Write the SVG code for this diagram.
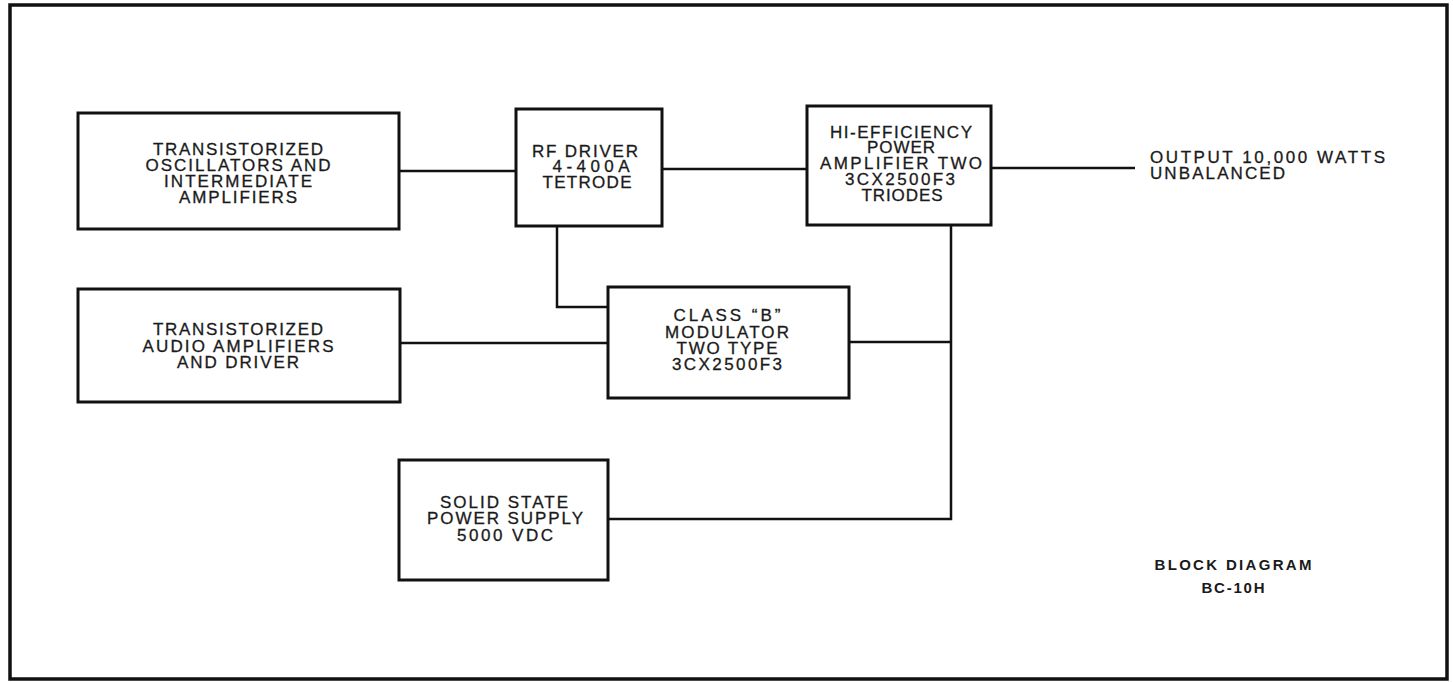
<svg xmlns="http://www.w3.org/2000/svg" width="1453" height="682" viewBox="0 0 1453 682">
<style>
.frame{fill:none;stroke:#111;stroke-width:3.5}
.box{fill:#fff;stroke:#111;stroke-width:3}
.wire{fill:none;stroke:#111;stroke-width:2.5}
.t{font-family:"Liberation Sans",Arial,sans-serif;font-size:17px;fill:#1a1a1a;stroke:#1a1a1a;stroke-width:0.3;text-anchor:middle}
.tl{font-family:"Liberation Sans",Arial,sans-serif;font-size:17px;fill:#1a1a1a;stroke:#1a1a1a;stroke-width:0.3;text-anchor:start}
.b{font-family:"Liberation Sans",Arial,sans-serif;font-size:15px;font-weight:bold;fill:#1a1a1a;text-anchor:middle}
</style>
<rect x="0" y="0" width="1453" height="682" fill="#fff"/>
<rect class="frame" x="10" y="5" width="1437" height="674"/>
<g id="connectors">
<line class="wire" x1="399" y1="171" x2="516" y2="171"/>
<line class="wire" x1="662" y1="169" x2="807" y2="169"/>
<line class="wire" x1="991" y1="168" x2="1135" y2="168"/>
<polyline class="wire" points="557,226 557,307 608,307"/>
<line class="wire" x1="400" y1="343" x2="608" y2="343"/>
<line class="wire" x1="849" y1="342" x2="951" y2="342"/>
<polyline class="wire" points="951,225 951,519 609,519"/>
</g>
<g id="osc">
<rect class="box" x="78" y="113" width="321" height="116"/>
<text class="t" x="238" y="155" textLength="170" lengthAdjust="spacing">TRANSISTORIZED</text>
<text class="t" x="238" y="171" textLength="185" lengthAdjust="spacing">OSCILLATORS AND</text>
<text class="t" x="238" y="187" textLength="148" lengthAdjust="spacing">INTERMEDIATE</text>
<text class="t" x="238" y="203" textLength="118" lengthAdjust="spacing">AMPLIFIERS</text>
</g>
<g id="rfdriver">
<rect class="box" x="516" y="109" width="146" height="117"/>
<text class="t" x="585" y="157" textLength="106" lengthAdjust="spacing">RF DRIVER</text>
<text class="t" x="591" y="172" textLength="77" lengthAdjust="spacing">4-400A</text>
<text class="t" x="587" y="188" textLength="89" lengthAdjust="spacing">TETRODE</text>
</g>
<g id="pa">
<rect class="box" x="807" y="106" width="184" height="119"/>
<text class="t" x="901" y="138" textLength="142" lengthAdjust="spacing">HI-EFFICIENCY</text>
<text class="t" x="901" y="153" textLength="68" lengthAdjust="spacing">POWER</text>
<text class="t" x="901" y="169" textLength="162" lengthAdjust="spacing">AMPLIFIER TWO</text>
<text class="t" x="900" y="185" textLength="110" lengthAdjust="spacing">3CX2500F3</text>
<text class="t" x="902" y="201" textLength="81" lengthAdjust="spacing">TRIODES</text>
</g>
<g id="output">
<text class="tl" x="1150" y="163" textLength="235" lengthAdjust="spacing">OUTPUT 10,000 WATTS</text>
<text class="tl" x="1150" y="179" textLength="135" lengthAdjust="spacing">UNBALANCED</text>
</g>
<g id="audio">
<rect class="box" x="78" y="289" width="322" height="113"/>
<text class="t" x="238" y="335" textLength="170" lengthAdjust="spacing">TRANSISTORIZED</text>
<text class="t" x="238" y="352" textLength="191" lengthAdjust="spacing">AUDIO AMPLIFIERS</text>
<text class="t" x="238" y="368" textLength="122" lengthAdjust="spacing">AND DRIVER</text>
</g>
<g id="modulator">
<rect class="box" x="608" y="287" width="241" height="111"/>
<text class="t" x="727" y="321" textLength="107" lengthAdjust="spacing">CLASS “B”</text>
<text class="t" x="727" y="338" textLength="124" lengthAdjust="spacing">MODULATOR</text>
<text class="t" x="727" y="354" textLength="101" lengthAdjust="spacing">TWO TYPE</text>
<text class="t" x="727" y="370" textLength="110" lengthAdjust="spacing">3CX2500F3</text>
</g>
<g id="power">
<rect class="box" x="399" y="460" width="209" height="120"/>
<text class="t" x="504" y="508" textLength="128" lengthAdjust="spacing">SOLID STATE</text>
<text class="t" x="505" y="524" textLength="156" lengthAdjust="spacing">POWER SUPPLY</text>
<text class="t" x="505" y="541" textLength="96" lengthAdjust="spacing">5000 VDC</text>
</g>
<g id="title">
<text class="b" x="1233" y="570" textLength="157" lengthAdjust="spacing">BLOCK DIAGRAM</text>
<text class="b" x="1233" y="593" textLength="63" lengthAdjust="spacing">BC-10H</text>
</g>
</svg>
